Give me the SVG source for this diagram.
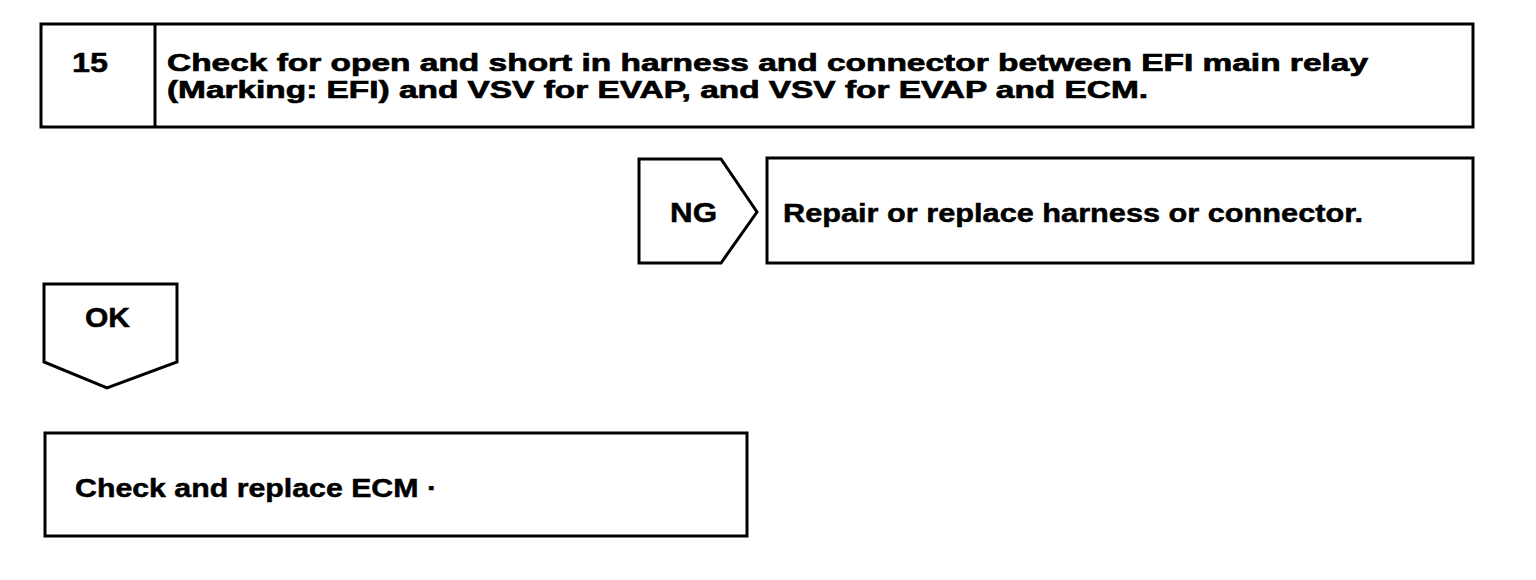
<svg xmlns="http://www.w3.org/2000/svg" width="1536" height="580" viewBox="0 0 1536 580">
<style>
.box{fill:#fff;stroke:#000;stroke-width:3;stroke-linejoin:miter}
.t{font-family:"Liberation Sans",Arial,sans-serif;font-weight:bold;font-size:26px;fill:#000;stroke:#000;stroke-width:0.5}
.big{font-size:28px}
.hd{font-size:24px;stroke-width:0.7}
</style>
<rect width="1536" height="580" fill="#fff"/>
<g id="step15">
<rect class="box" x="41" y="24" width="1432" height="103"/>
<line x1="155" y1="24" x2="155" y2="127" stroke="#000" stroke-width="3"/>
<text class="t big" x="72" y="72" textLength="36" lengthAdjust="spacingAndGlyphs">15</text>
<text class="t hd" x="167" y="71" textLength="1201" lengthAdjust="spacingAndGlyphs">Check for open and short in harness and connector between EFI main relay</text>
<text class="t hd" x="167" y="98" textLength="981" lengthAdjust="spacingAndGlyphs">(Marking: EFI) and VSV for EVAP, and VSV for EVAP and ECM.</text>
</g>
<g id="connectors">
<g id="ng">
<polygon class="box" points="639,159 721,159 757,212 721,263 639,263"/>
<text class="t big" x="670" y="222" textLength="47" lengthAdjust="spacingAndGlyphs">NG</text>
</g>
<g id="ok">
<polygon class="box" points="44,284 177,284 177,362 107,388 44,362"/>
<text class="t big" x="85" y="327" textLength="45" lengthAdjust="spacingAndGlyphs">OK</text>
</g>
</g>
<g id="repair">
<rect class="box" x="767" y="158" width="706" height="105"/>
<text class="t" x="783" y="222" textLength="580" lengthAdjust="spacingAndGlyphs">Repair or replace harness or connector.</text>
</g>
<g id="ecm">
<rect class="box" x="45" y="433" width="702" height="103"/>
<text class="t" x="75" y="497" textLength="362" lengthAdjust="spacingAndGlyphs">Check and replace ECM ·</text>
</g>
</svg>
